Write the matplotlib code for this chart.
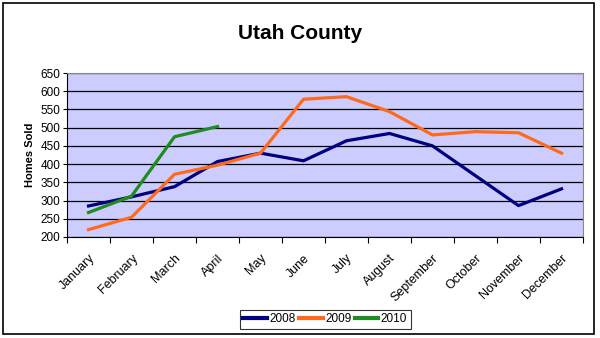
import matplotlib
matplotlib.use('Agg')
import matplotlib.pyplot as plt
from matplotlib.patches import Rectangle

plt.rcParams['font.family'] = ['Liberation Sans', 'DejaVu Sans']

months = ['January', 'February', 'March', 'April', 'May', 'June', 'July',
          'August', 'September', 'October', 'November', 'December']
sold_2008 = [285, 310, 338, 407, 430, 409, 464, 484, 450, 368, 286, 332]
sold_2009 = [220, 254, 372, 397, 430, 578, 585, 544, 480, 489, 486, 430]
sold_2010 = [267, 312, 475, 503]

fig = plt.figure(figsize=(6, 3.38), dpi=100)
ax = fig.add_axes([0.1117, 0.299, 0.86, 0.485])
ax.set_facecolor('#CCCCFF')

x = list(range(len(months)))
ax.plot(x, sold_2008, color='#000080', lw=2.3, label='2008', zorder=3)
ax.plot(x, sold_2009, color='#FF6A1A', lw=2.3, label='2009', zorder=3)
ax.plot(x[:len(sold_2010)], sold_2010, color='#1E8C1E', lw=2.3, label='2010', zorder=3)

ax.set_xlim(-0.5, 11.5)
ax.set_ylim(200, 650)
ax.set_yticks(range(200, 651, 50))
ax.yaxis.grid(True, color='black', lw=0.9)
ax.set_axisbelow(True)

ax.set_xticks([i + 0.5 for i in range(-1, 12)], minor=False)
ax.set_xticklabels([])
ax.set_xticks(x, minor=True)
ax.set_xticklabels(months, minor=True, rotation=45, ha='right',
                   rotation_mode='anchor', fontsize=9)
ax.tick_params(axis='x', which='minor', length=0, pad=11)
ax.tick_params(axis='x', which='major', length=4, direction='out')
ax.tick_params(axis='y', labelsize=8.5, length=3, pad=2)

for s in ['top', 'right']:
    ax.spines[s].set_color('#888888')
for s in ['left', 'bottom']:
    ax.spines[s].set_color('black')

ax.set_ylabel('Homes Sold', fontsize=8, fontweight='bold', labelpad=4)
fig.text(0.5, 0.9, 'Utah County', ha='center', va='center',
         fontsize=15, fontweight='bold')

leg = fig.legend(loc='center', bbox_to_anchor=(0.542, 0.056), ncol=3,
                 fontsize=8.5, frameon=True, fancybox=False, edgecolor='black',
                 handlelength=2.0, handletextpad=0.2, columnspacing=0.3,
                 borderpad=0.3)
leg.get_frame().set_linewidth(0.8)
for line in leg.get_lines():
    line.set_linewidth(3)

fig.patches.append(Rectangle((0.005, 0.012), 0.985, 0.978, transform=fig.transFigure,
                             fill=False, edgecolor='black', lw=1.2))

fig.savefig('out.png', dpi=100)
